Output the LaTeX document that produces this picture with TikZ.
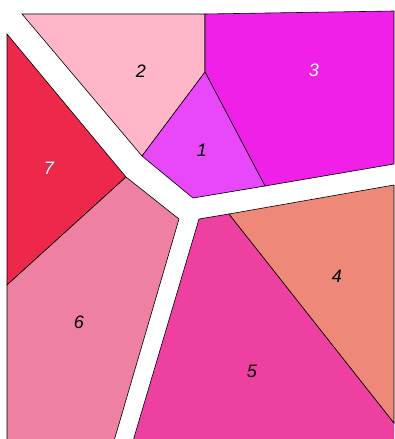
\documentclass[tikz,border=0pt]{standalone}
\usepackage{fontspec}
\setmainfont{Liberation Sans}
\begin{document}
\begin{tikzpicture}[x=1pt,y=-1pt,
  cell/.style={draw=black,line width=0.6pt,line join=miter},
  lab/.style={font=\fontsize{18}{18}\selectfont\itshape,inner sep=0pt}]
\definecolor{cA}{RGB}{232,72,250}
\definecolor{cB}{RGB}{255,182,200}
\definecolor{cC}{RGB}{240,32,232}
\definecolor{cD}{RGB}{238,136,120}
\definecolor{cE}{RGB}{238,64,160}
\definecolor{cF}{RGB}{238,128,162}
\definecolor{cG}{RGB}{238,40,74}
\useasboundingbox (0,0) rectangle (394,439);
% region 2
\fill[cB] (22,14) -- (205,14) -- (205,72) -- (142,156) -- cycle;
\draw[cell] (22,14) -- (205,14) -- (205,72) -- (142,156) -- cycle;
% region 3
\fill[cC] (205,14) -- (394,11) -- (394,164) -- (265,186) -- (205,72) -- cycle;
\draw[cell] (205,14) -- (394,11) -- (394,164) -- (265,186) -- (205,72) -- cycle;
% region 1
\fill[cA] (205,72) -- (265,186) -- (193,198) -- (142,156) -- cycle;
\draw[cell] (205,72) -- (265,186) -- (193,198) -- (142,156) -- cycle;
% region 7
\fill[cG] (7,34) -- (126,177) -- (7,285) -- cycle;
\draw[cell] (7,34) -- (126,177) -- (7,285) -- cycle;
% region 6
\fill[cF] (7,285) -- (126,177) -- (179,219) -- (114,441) -- (7,441) -- cycle;
\draw[cell] (7,441) -- (7,285) -- (126,177) -- (179,219) -- (114,441);
% region 5
\fill[cE] (199,219) -- (229,214) -- (394,423) -- (394,441) -- (133,441) -- cycle;
\draw[cell] (133,441) -- (199,219) -- (229,214) -- (394,423);
% region 4
\fill[cD] (229,214) -- (394,185) -- (394,423) -- cycle;
\draw[cell] (229,214) -- (394,185) -- (394,423) -- cycle;
% labels
\node[lab] (n1) at (202,150) {1};
\node[lab] (n2) at (141,71) {2};
\node[lab,text=white] (n3) at (314,70) {3};
\node[lab] (n4) at (337,276) {4};
\node[lab] (n5) at (252,371) {5};
\node[lab] (n6) at (79,322) {6};
\node[lab,text=white] (n7) at (49,168) {7};
\end{tikzpicture}
\end{document}
